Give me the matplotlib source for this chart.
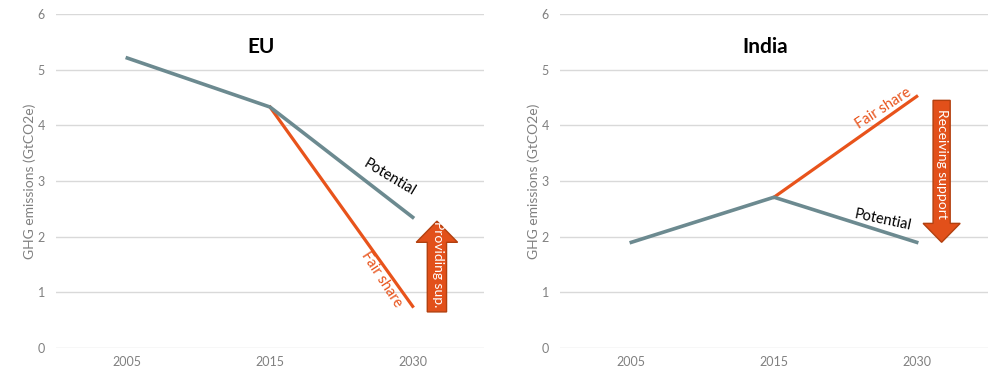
import numpy as np
import matplotlib.pyplot as plt
from matplotlib.patches import FancyArrow

plt.rcParams['font.family'] = ['Lato', 'DejaVu Sans']

# data
years = ['2005', '2015', '2030']
eu_potential = [5.21, 4.33, 2.35]
eu_fair = [None, 4.33, 0.75]
india_potential = [1.90, 2.71, 1.90]
india_fair = [None, 2.71, 4.52]

grey = '#6C8A90'
orange = '#E8531B'
tick_col = '#808080'

fig = plt.figure(figsize=(10, 3.8), dpi=100)
ax1 = fig.add_axes([0.056, 0.084, 0.428, 0.879])
ax2 = fig.add_axes([0.560, 0.084, 0.428, 0.879])

x = np.arange(len(years)) + 0.5


def setup(ax, title):
    ax.set_xlim(0, 3)
    ax.set_ylim(0, 6)
    ax.set_xticks(x)
    ax.set_xticklabels(years)
    ax.set_yticks(range(7))
    ax.grid(axis='y', color='#D9D9D9', linewidth=1)
    ax.set_axisbelow(True)
    for s in ax.spines.values():
        s.set_visible(False)
    ax.tick_params(length=0, labelsize=9, colors=tick_col, pad=6)
    ax.tick_params(axis='y', pad=8)
    ax.set_ylabel('GHG emissions (GtCO2e)', fontsize=10, color=tick_col, labelpad=1)
    ax.text(0.48, 5.4, title, fontsize=15, fontweight='bold', ha='center', va='center',
            transform=ax.get_yaxis_transform())


def draw(ax, pot, fair):
    ax.plot(x[1:], fair[1:], color=orange, linewidth=2.3, zorder=3)
    ax.plot(x, pot, color=grey, linewidth=2.6, zorder=4)


setup(ax1, 'EU')
draw(ax1, eu_potential, eu_fair)
ax1.text(2.34, 3.06, 'Potential', rotation=-31, fontsize=10.5, ha='center', va='center')
ax1.text(2.28, 1.23, 'Fair share', rotation=-57, fontsize=10.5, color=orange,
         ha='center', va='center')
ax1.add_patch(FancyArrow(2.67, 0.65, 0, 1.63, width=0.135, head_width=0.29,
                         head_length=0.38, length_includes_head=True,
                         facecolor='#E2501A', edgecolor='#B2400F', linewidth=1, zorder=5))
ax1.text(2.675, 1.5, 'Providing sup.', rotation=-90, color='white', fontsize=10,
         ha='center', va='center', zorder=6)

setup(ax2, 'India')
draw(ax2, india_potential, india_fair)
ax2.text(2.26, 2.3, 'Potential', rotation=-12, fontsize=10.5, ha='center', va='center')
ax2.text(2.27, 4.3, 'Fair share', rotation=33, fontsize=10.5, color=orange,
         ha='center', va='center')
ax2.add_patch(FancyArrow(2.675, 4.45, 0, -2.55, width=0.12, head_width=0.26,
                         head_length=0.34, length_includes_head=True,
                         facecolor='#E2501A', edgecolor='#B2400F', linewidth=1, zorder=5))
ax2.text(2.68, 3.3, 'Receiving support', rotation=-90, color='white', fontsize=10,
         ha='center', va='center', zorder=6)

fig.savefig('out.png', dpi=100)
